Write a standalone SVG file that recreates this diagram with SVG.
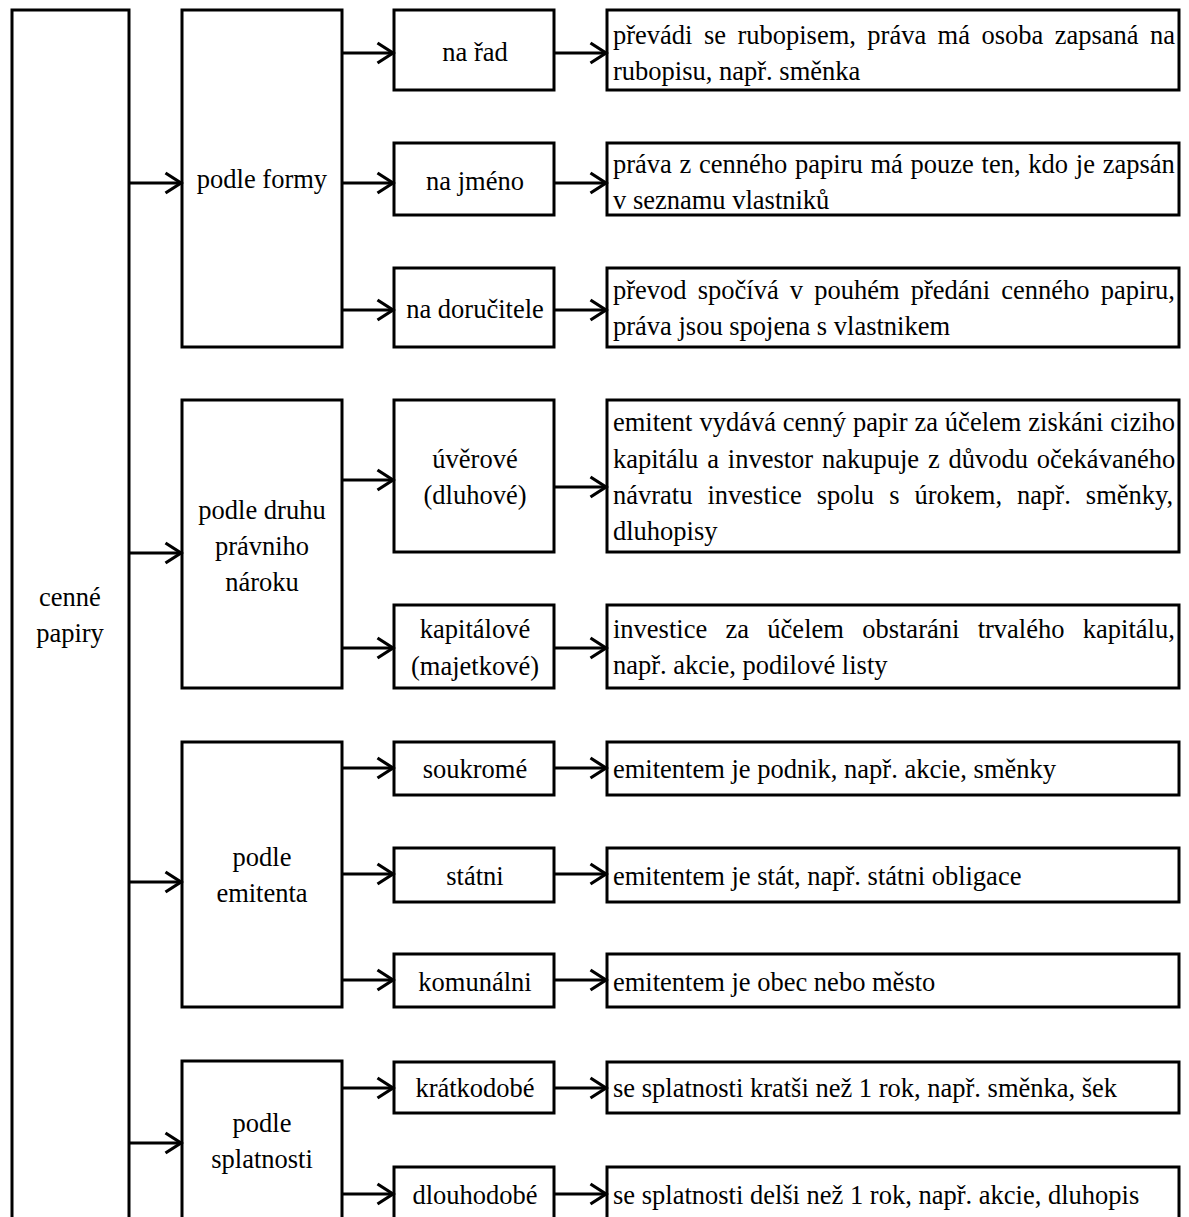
<svg xmlns="http://www.w3.org/2000/svg" width="1189" height="1217" viewBox="0 0 1189 1217">
<style>
.box{fill:#fff;stroke:#000;stroke-width:3}
.t{font-family:"Liberation Serif","Times New Roman",serif;font-size:26.5px;fill:#000}
.c{text-anchor:middle}
.cn path{fill:none;stroke:#000;stroke-width:3;marker-end:url(#ah)}
</style>
<defs>
<marker id="ah" markerUnits="userSpaceOnUse" markerWidth="22" markerHeight="24" viewBox="0 0 22 24" refX="18" refY="12" orient="auto">
<path d="M2.5,2 L18,12 L2.5,22" fill="none" stroke="#000" stroke-width="3.2"/>
</marker>
</defs>
<rect width="1189" height="1217" fill="#fff"/>

<g id="cenne-papiry">
<rect class="box" x="12" y="10" width="117" height="1240"/>
<text class="t c" x="70" y="606">cenné</text>
<text class="t c" x="70" y="642">papiry</text>
</g>

<g id="podle-formy">
<rect class="box" x="182" y="10" width="160" height="337"/>
<text class="t c" x="262" y="188">podle formy</text>
</g>
<g id="na-rad">
<rect class="box" x="394" y="10" width="160" height="80"/>
<text class="t c" x="475" y="61">na řad</text>
</g>
<g id="na-jmeno">
<rect class="box" x="394" y="143" width="160" height="72"/>
<text class="t c" x="475" y="190">na jméno</text>
</g>
<g id="na-dorucitele">
<rect class="box" x="394" y="268" width="160" height="79"/>
<text class="t c" x="475" y="318">na doručitele</text>
</g>
<g id="popis-na-rad">
<rect class="box" x="607" y="10" width="572" height="80"/>
<text class="t" x="613" y="44" word-spacing="4.8">převádi se rubopisem, práva má osoba zapsaná na</text>
<text class="t" x="613" y="80">rubopisu, např. směnka</text>
</g>
<g id="popis-na-jmeno">
<rect class="box" x="607" y="143" width="572" height="72"/>
<text class="t" x="613" y="173" word-spacing="1.1">práva z cenného papiru má pouze ten, kdo je zapsán</text>
<text class="t" x="613" y="209">v seznamu vlastniků</text>
</g>
<g id="popis-na-dorucitele">
<rect class="box" x="607" y="268" width="572" height="79"/>
<text class="t" x="613" y="299" word-spacing="4.5">převod spočívá v pouhém předáni cenného papiru,</text>
<text class="t" x="613" y="335">práva jsou spojena s vlastnikem</text>
</g>

<g id="podle-druhu">
<rect class="box" x="182" y="400" width="160" height="288"/>
<text class="t c" x="262" y="519">podle druhu</text>
<text class="t c" x="262" y="555">právniho</text>
<text class="t c" x="262" y="591">nároku</text>
</g>
<g id="uverove">
<rect class="box" x="394" y="400" width="160" height="152"/>
<text class="t c" x="475" y="468">úvěrové</text>
<text class="t c" x="475" y="504">(dluhové)</text>
</g>
<g id="kapitalove">
<rect class="box" x="394" y="605" width="160" height="83"/>
<text class="t c" x="475" y="638">kapitálové</text>
<text class="t c" x="475" y="675">(majetkové)</text>
</g>
<g id="popis-uverove">
<rect class="box" x="607" y="400" width="572" height="152"/>
<text class="t" x="613" y="431" word-spacing="0.3">emitent vydává cenný papir za účelem ziskáni ciziho</text>
<text class="t" x="613" y="468" word-spacing="2.2">kapitálu a investor nakupuje z důvodu očekávaného</text>
<text class="t" x="613" y="504" word-spacing="8.4">návratu investice spolu s úrokem, např. směnky,</text>
<text class="t" x="613" y="540">dluhopisy</text>
</g>
<g id="popis-kapitalove">
<rect class="box" x="607" y="605" width="572" height="83"/>
<text class="t" x="613" y="638" word-spacing="11.7">investice za účelem obstaráni trvalého kapitálu,</text>
<text class="t" x="613" y="674">např. akcie, podilové listy</text>
</g>

<g id="podle-emitenta">
<rect class="box" x="182" y="742" width="160" height="265"/>
<text class="t c" x="262" y="866">podle</text>
<text class="t c" x="262" y="902">emitenta</text>
</g>
<g id="soukrome">
<rect class="box" x="394" y="742" width="160" height="53"/>
<text class="t c" x="475" y="778">soukromé</text>
</g>
<g id="statni">
<rect class="box" x="394" y="848" width="160" height="54"/>
<text class="t c" x="475" y="885">státni</text>
</g>
<g id="komunalni">
<rect class="box" x="394" y="954" width="160" height="53"/>
<text class="t c" x="475" y="991">komunálni</text>
</g>
<g id="popis-soukrome">
<rect class="box" x="607" y="742" width="572" height="53"/>
<text class="t" x="613" y="778">emitentem je podnik, např. akcie, směnky</text>
</g>
<g id="popis-statni">
<rect class="box" x="607" y="848" width="572" height="54"/>
<text class="t" x="613" y="885">emitentem je stát, např. státni obligace</text>
</g>
<g id="popis-komunalni">
<rect class="box" x="607" y="954" width="572" height="53"/>
<text class="t" x="613" y="991">emitentem je obec nebo město</text>
</g>

<g id="podle-splatnosti">
<rect class="box" x="182" y="1061" width="160" height="200"/>
<text class="t c" x="262" y="1132">podle</text>
<text class="t c" x="262" y="1168">splatnosti</text>
</g>
<g id="kratkodobe">
<rect class="box" x="394" y="1062" width="160" height="51"/>
<text class="t c" x="475" y="1097">krátkodobé</text>
</g>
<g id="dlouhodobe">
<rect class="box" x="394" y="1167" width="160" height="90"/>
<text class="t c" x="475" y="1204">dlouhodobé</text>
</g>
<g id="popis-kratkodobe">
<rect class="box" x="607" y="1062" width="572" height="51"/>
<text class="t" x="613" y="1097">se splatnosti kratši než 1 rok, např. směnka, šek</text>
</g>
<g id="popis-dlouhodobe">
<rect class="box" x="607" y="1167" width="572" height="90"/>
<text class="t" x="613" y="1204">se splatnosti delši než 1 rok, např. akcie, dluhopis</text>
</g>

<g id="connectors" class="cn">
<path d="M129,183 H181"/>
<path d="M129,553 H181"/>
<path d="M129,882 H181"/>
<path d="M129,1143 H181"/>
<path d="M342,53 H393"/>
<path d="M342,183 H393"/>
<path d="M342,310 H393"/>
<path d="M342,480 H393"/>
<path d="M342,648 H393"/>
<path d="M342,768 H393"/>
<path d="M342,874 H393"/>
<path d="M342,980 H393"/>
<path d="M342,1088 H393"/>
<path d="M342,1194 H393"/>
<path d="M554,53 H606"/>
<path d="M554,183 H606"/>
<path d="M554,310 H606"/>
<path d="M554,487 H606"/>
<path d="M554,648 H606"/>
<path d="M554,768 H606"/>
<path d="M554,874 H606"/>
<path d="M554,980 H606"/>
<path d="M554,1088 H606"/>
<path d="M554,1194 H606"/>
</g>
</svg>
